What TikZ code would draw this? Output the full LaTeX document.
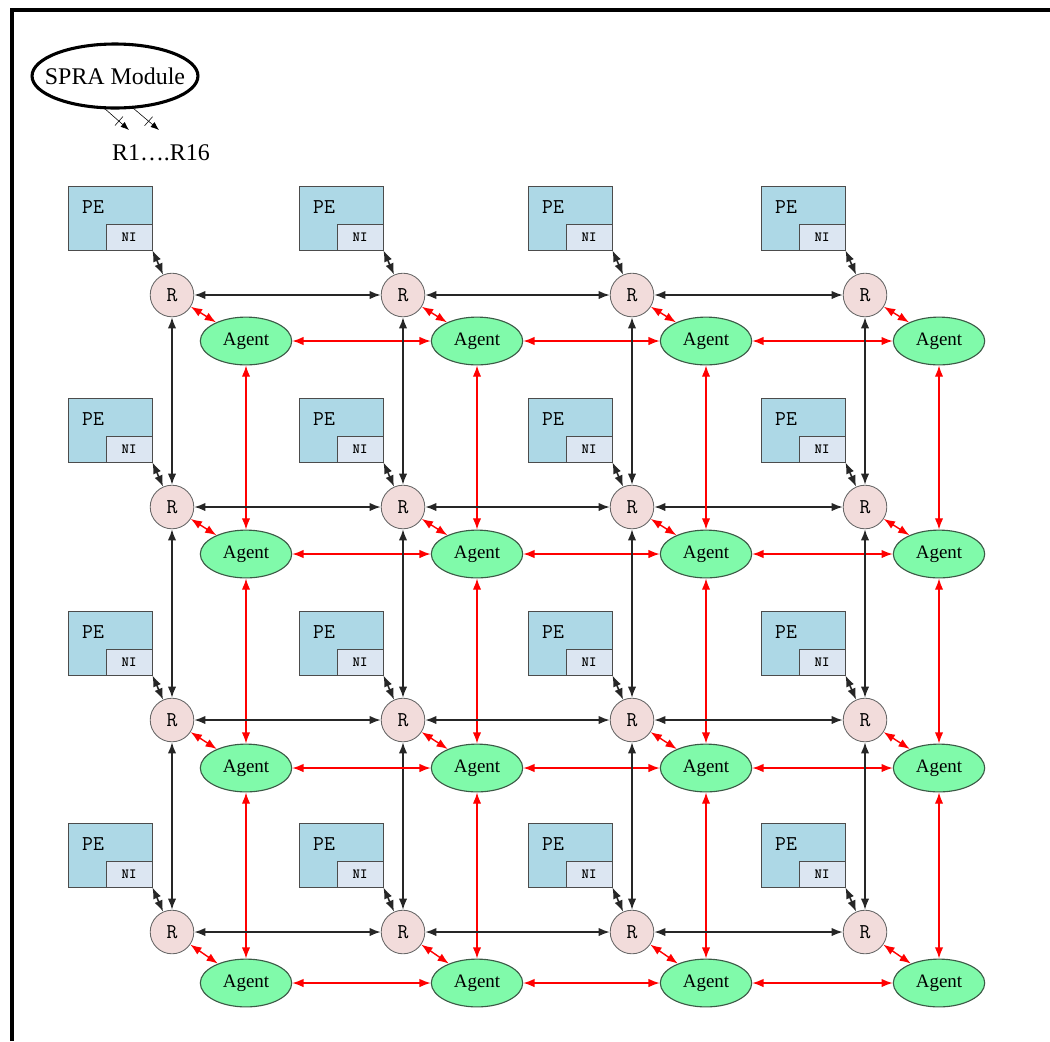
\documentclass[tikz,border=0pt]{standalone}
\usepackage{fontspec}
\setmainfont{Liberation Serif}
\usetikzlibrary{positioning}
\usetikzlibrary{arrows.meta,shapes.geometric}
\definecolor{pefill}{RGB}{173,216,230}
\definecolor{nifill}{RGB}{220,230,242}
\definecolor{rfill}{RGB}{242,220,219}
\definecolor{agentfill}{RGB}{128,250,170}
\definecolor{agentline}{RGB}{60,90,70}

\begin{document}
\begin{tikzpicture}
			[x=0.025cm,y=-0.025cm,
			 >={Latex[length=8pt,width=6pt]},
			 pe/.style={draw=black!70,fill=pefill,semithick,minimum width=59.8pt,minimum height=45.5pt,inner sep=0},
			 ni/.style={draw=black!70,fill=nifill,semithick,minimum width=32.7pt,minimum height=18.5pt,inner sep=0,font=\ttfamily\bfseries\fontsize{10}{10}\selectfont},
			 petext/.style={inner sep=0,font=\ttfamily\fontsize{15}{15}\selectfont},
			 router/.style={circle,draw=black!60,fill=rfill,semithick,minimum size=31pt,inner sep=0,font=\ttfamily\fontsize{15}{15}\selectfont},
			 agent/.style={ellipse,draw=agentline,fill=agentfill,thick,minimum width=65pt,minimum height=34pt,inner sep=0,font=\fontsize{13.5}{13.5}\selectfont},
			 spramod/.style={ellipse,draw,line width=2.2pt,minimum width=118pt,minimum height=45.5pt,inner sep=0},
			 link/.style={<->,line width=1.1pt,black!85},
			 alink/.style={<->,line width=1pt,red}]
			\useasboundingbox (0,0) rectangle (1050,1041);
			\draw[line width=2.8pt] (12,1041) -- (12,10) -- (1050,10);

			\node[spramod] (spra) at (115,76) {};
			\node[font=\fontsize{17}{17}\selectfont] (sprat) at (spra) {SPRA Module};
			\coordinate (s1) at (104,108);
			\coordinate (e1) at (129,130);
			\coordinate (s2) at (133,108);
			\coordinate (e2) at (159,130);
			\draw[-{Latex[length=6pt,width=4.5pt]}] (s1) -- (e1);
			\draw[-{Latex[length=6pt,width=4.5pt]}] (s2) -- (e2);
			\draw (123,116.5) -- (115,125.5);
			\draw (152.6,116.7) -- (144.6,125.7);
			\node[font=\fontsize{17}{17}\selectfont] (rlist) at (161,153) {R1….R16};

			% tiles
			\foreach \x [count=\j] in {172,403,632,865}
			  \foreach \y/\ay [count=\i] in {295/46,507/47,720/48,932/51} {
			    \node[router] (r\i\j) at (\x,\y) {R};
			    \node[pe] (pe\i\j) at (\x-62,\y-77) {};
			    \node[petext] (pet\i\j) at (\x-79,\y-88) {PE};
			    \node[ni,anchor=south east] (ni\i\j) at (pe\i\j.south east) {NI};
			    \node[agent] (a\i\j) at (\x+74,\y+\ay) {Agent};
			    \draw[link] (ni\i\j.south east) -- (r\i\j);
			    \draw[alink] (r\i\j) -- (a\i\j);
			  }

			% mesh links
			\foreach \i in {1,...,4}
			  \foreach \j/\k in {1/2,2/3,3/4} {
			    \draw[link] (r\i\j) -- (r\i\k);
			    \draw[alink] (a\i\j) -- (a\i\k);
			    \draw[link] (r\j\i) -- (r\k\i);
			    \draw[alink] (a\j\i) -- (a\k\i);
			  }
	  \end{tikzpicture}
\end{document}
